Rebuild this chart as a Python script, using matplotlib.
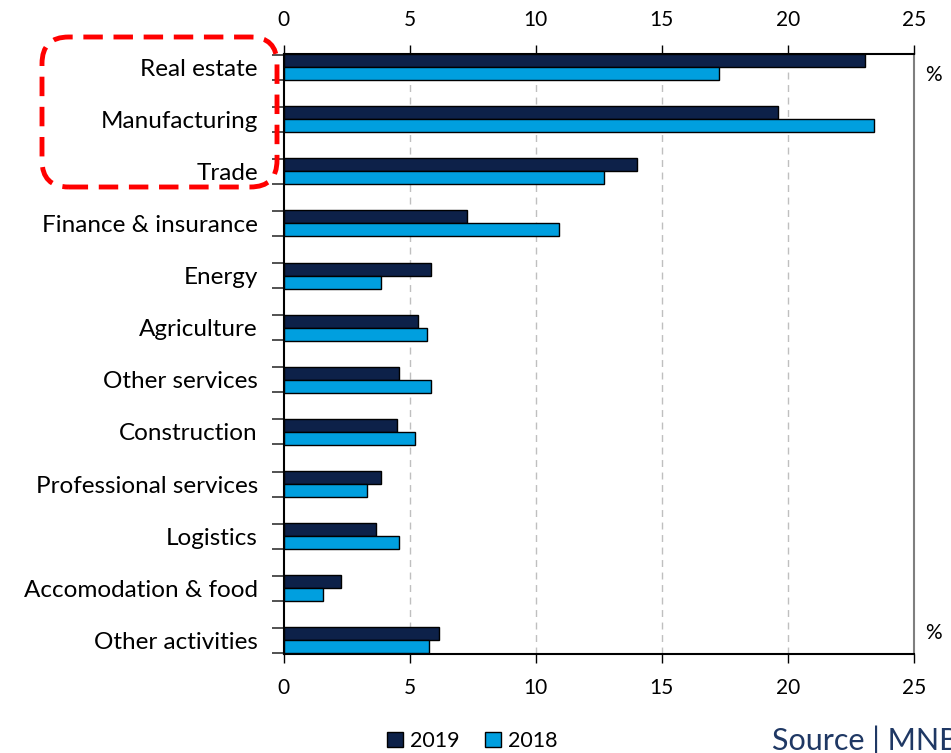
import matplotlib
matplotlib.use("Agg")
import matplotlib.pyplot as plt
from matplotlib.patches import FancyBboxPatch, Patch
import numpy as np

categories = ["Real estate", "Manufacturing", "Trade", "Finance & insurance", "Energy",
              "Agriculture", "Other services", "Construction", "Professional services",
              "Logistics", "Accomodation & food", "Other activities"]
values_2019 = [23.06, 19.62, 14.03, 7.27, 5.85, 5.34, 4.59, 4.52, 3.85, 3.66, 2.28, 6.16]
values_2018 = [17.27, 23.41, 12.70, 10.92, 3.86, 5.68, 5.84, 5.22, 3.30, 4.57, 1.55, 5.77]
xticks = [0, 5, 10, 15, 20, 25]

plt.rcParams['font.family'] = ['Lato', 'DejaVu Sans']

c2019 = "#0D2149"
c2018 = "#009FDF"

fig = plt.figure(figsize=(9.51, 7.53), dpi=100)
ax = fig.add_axes([283.5 / 951, 1 - 654 / 753, (914 - 283.5) / 951, (654 - 54) / 753])

y = np.arange(len(categories))
h = 0.25
ax.barh(y - h / 2, values_2019, height=h, color=c2019, edgecolor="black", linewidth=1.0, label="2019", zorder=3)
ax.barh(y + h / 2, values_2018, height=h, color=c2018, edgecolor="black", linewidth=1.0, label="2018", zorder=3)

ax.set_xlim(0, 25)
ax.set_ylim(11.26, -0.25)
ax.set_xticks(xticks)
ax.tick_params(axis="x", which="both", top=True, bottom=True, labeltop=True, labelbottom=True,
               direction="out", length=6.5, width=1.0, labelsize=15, pad=11, color="black")
ax.set_yticks(y)
ax.set_yticklabels(categories, fontsize=17.5)
ax.tick_params(axis="y", which="major", length=0, pad=18.5)
edges = np.concatenate([y - 0.24, y + 0.24])
ax.set_yticks(edges, minor=True)
ax.tick_params(axis="y", which="minor", length=9, width=1.2, color="#333333", direction="out")

for gx in [5, 10, 15, 20]:
    ax.axvline(gx, color="#BFBFBF", linestyle=(0, (5, 4)), linewidth=1.0, zorder=1)

for s in ["top", "bottom", "left"]:
    ax.spines[s].set_color("black")
    ax.spines[s].set_linewidth(1.5)
ax.spines["right"].set_color("#7F7F7F")
ax.spines["right"].set_linewidth(1.5)

fig.text(933 / 951, 1 - 75 / 753, "%", fontsize=15, ha="center", va="center")
fig.text(933 / 951, 1 - 633 / 753, "%", fontsize=15, ha="center", va="center")

box = FancyBboxPatch((42 / 951, 1 - 187 / 753), (277 - 42) / 951, (187 - 37) / 753,
                     boxstyle="round,pad=0,rounding_size=0.028", transform=fig.transFigure,
                     fill=False, edgecolor="#FF0000", linewidth=3.5, linestyle=(0, (4, 2.2)),
                     mutation_aspect=951 / 753)
fig.patches.append(box)

handles = [Patch(facecolor=c2019, edgecolor="black", label="2019"),
           Patch(facecolor=c2018, edgecolor="black", label="2018")]
fig.legend(handles=handles, loc="center", bbox_to_anchor=(472 / 951, 1 - 741 / 753), ncol=2,
           frameon=False, fontsize=15.5, handlelength=0.75, handleheight=0.75, handletextpad=0.3,
           columnspacing=1.2)

fig.text(772 / 951, 1 - 750 / 753, "Source | MNB", fontsize=22, color="#1F3864", ha="left", va="baseline")

fig.savefig("out.png", dpi=100)
